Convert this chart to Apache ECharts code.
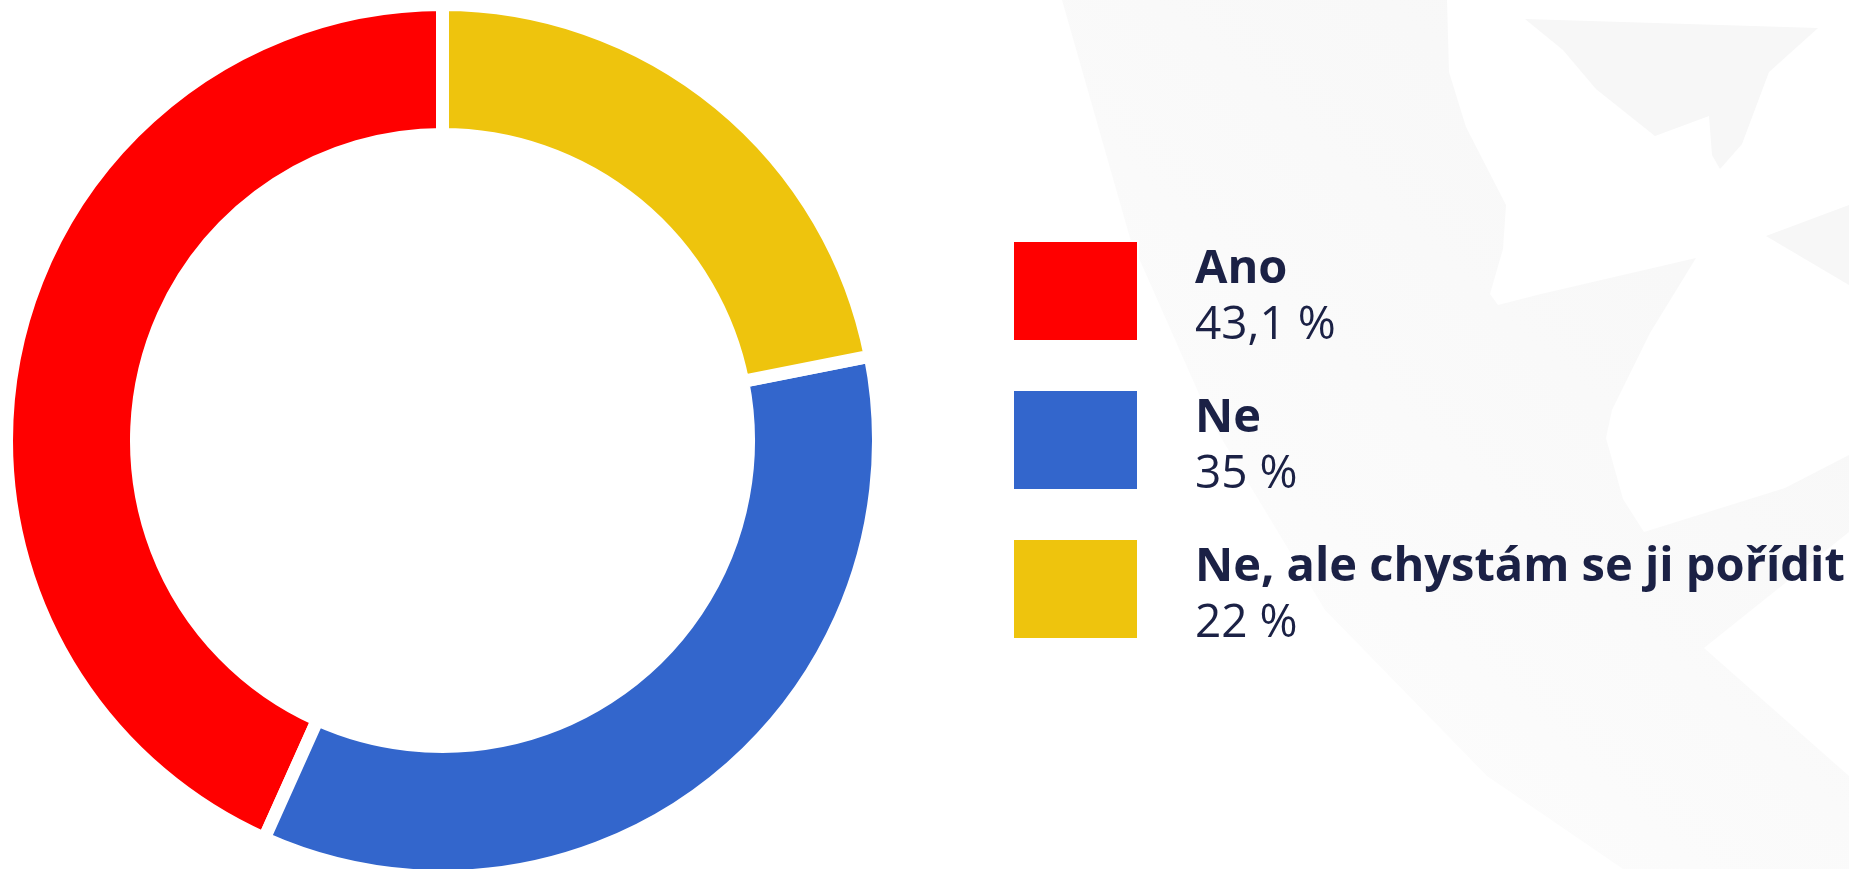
<!DOCTYPE html>
<html>
<head>
<meta charset="utf-8">
<title>Pie</title>
<script src="https://cdn.jsdelivr.net/npm/echarts@6/dist/echarts.min.js"></script>
<style>
  html, body { margin: 0; padding: 0; background: #ffffff; }
  #chart { width: 1849px; height: 869px; }
</style>
</head>
<body>
<div id="chart"></div>
<script>
const categories = ['Ano', 'Ne', 'Ne, ale chystám se ji pořídit'];
// slice shares as drawn, and the percentages printed in the legend
const values = [43.3, 34.8, 21.9];
const valueLabels = ['43,1 %', '35 %', '22 %'];
const colors = ['#ff0000', '#3366cc', '#eec40d'];

// faint background emblem (decoration only)
const bgShapes = [
  [[1062, 0], [1447, 0], [1449, 72], [1466, 127], [1506, 205], [1503, 249], [1490, 294], [1498, 305],
   [1541, 294], [1696, 258], [1650, 333], [1612, 410], [1606, 438], [1623, 499], [1644, 532],
   [1785, 488], [1849, 455], [1849, 532], [1704, 648], [1849, 776], [1849, 869], [1623, 869],
   [1487, 776], [1325, 610], [1211, 421], [1130, 238]],
  [[1525, 19], [1818, 28], [1769, 72], [1742, 144], [1720, 169], [1712, 155], [1709, 116],
   [1655, 136], [1596, 89], [1563, 50]],
  [[1766, 236], [1849, 205], [1849, 285]]
];

const chart = echarts.init(document.getElementById('chart'));

const option = {
  backgroundColor: '#ffffff',
  animation: false,
  graphic: bgShapes.map((pts, i) => ({
    type: 'polygon',
    z: -10,
    silent: true,
    shape: { points: pts },
    style: {
      fill: i === 0 ? {
        type: 'linear', x: 0, y: 1, x2: 1, y2: 0,
        colorStops: [
          { offset: 0, color: '#fefefe' },
          { offset: 0.6, color: '#f9f9f9' },
          { offset: 1, color: '#f6f6f6' }
        ]
      } : '#f7f7f7'
    }
  })),
  legend: {
    orient: 'vertical',
    left: 1012,
    top: 228,
    padding: 0,
    itemGap: 23,
    itemWidth: 125,
    itemHeight: 100,
    icon: 'rect',
    selectedMode: false,
    data: categories,
    formatter: function (name) {
      const i = categories.indexOf(name);
      return '{n|' + name + '}\n{v|' + valueLabels[i] + '}';
    },
    textStyle: {
      padding: [14, 0, 0, 52],
      lineHeight: 56,
      rich: {
        n: {
          fontFamily: 'Open Sans',
          fontWeight: 'bold',
          fontSize: 47,
          lineHeight: 56,
          color: '#1b2145'
        },
        v: {
          fontFamily: 'Open Sans',
          fontSize: 46,
          lineHeight: 56,
          color: '#1b2145'
        }
      }
    }
  },
  series: [{
    type: 'pie',
    center: [442.5, 440.5],
    radius: [306, 436],
    startAngle: 90,
    clockwise: false,
    silent: true,
    label: { show: false },
    labelLine: { show: false },
    itemStyle: {
      borderColor: '#ffffff',
      borderWidth: 13
    },
    data: categories.map((name, i) => ({
      name: name,
      value: values[i],
      itemStyle: { color: colors[i] }
    }))
  }]
};

chart.setOption(option);
</script>
</body>
</html>
